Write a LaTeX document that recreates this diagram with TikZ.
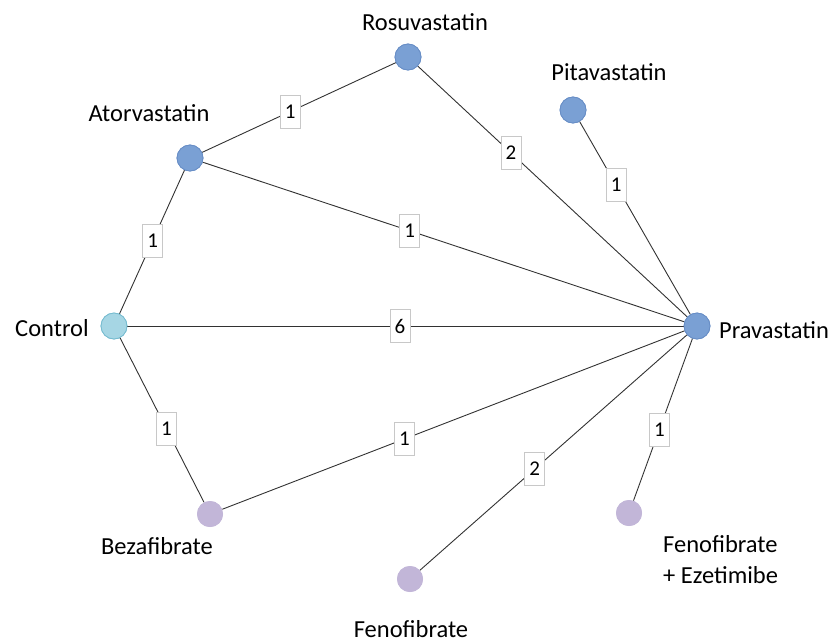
\documentclass[tikz,border=0pt]{standalone}
\usepackage{fontspec}
\setmainfont{Carlito}
\definecolor{bluefill}{RGB}{122,160,212}
\definecolor{blueline}{RGB}{104,142,198}
\definecolor{cyanfill}{RGB}{166,214,228}
\definecolor{cyanline}{RGB}{118,188,208}
\definecolor{purplefill}{RGB}{194,182,216}
\definecolor{edgecol}{RGB}{50,50,50}
\definecolor{boxline}{RGB}{200,200,200}
\tikzset{
  blue node/.style={circle, minimum size=26pt, inner sep=0pt, fill=bluefill, draw=blueline, line width=0.8pt},
  ctrl node/.style={circle, minimum size=26pt, inner sep=0pt, fill=cyanfill, draw=cyanline, line width=0.8pt},
  purple node/.style={circle, minimum size=26pt, inner sep=0pt, fill=purplefill},
  name text/.style={font=\fontsize{24.5}{31}\selectfont, inner sep=0pt},
  edgeline/.style={draw=edgecol, line width=0.9pt},
  lbl/.style={fill=white, draw=boxline, line width=0.6pt, minimum width=20pt, minimum height=33pt, inner sep=0pt, font=\fontsize{21}{24}\selectfont, text=black}
}
\begin{document}
\begin{tikzpicture}[x=1pt,y=-1pt]
\useasboundingbox (0,0) rectangle (834,643);
% nodes
\node[blue node] (rosu) at (408,57) {};
\node[blue node] (pita) at (573,110) {};
\node[blue node] (ator) at (190,158) {};
\node[ctrl node] (ctrl) at (114,326) {};
\node[blue node] (prav) at (697,326) {};
\node[purple node] (beza) at (210,514) {};
\node[purple node] (feno) at (410,579) {};
\node[purple node] (fenoez) at (629,513) {};
% names
\node[name text] (trosu) at (425,22) {Rosuvastatin};
\node[name text] (tpita) at (609,72) {Pitavastatin};
\node[name text] (tator) at (149,113) {Atorvastatin};
\node[name text] (tctrl) at (52,328) {Control};
\node[name text] (tprav) at (774,330) {Pravastatin};
\node[name text] (tbeza) at (157,546) {Bezafibrate};
\node[name text] (tfeno) at (411,629) {Fenofibrate};
\node[name text, align=left, anchor=west] (tfenoez) at (663,560) {Fenofibrate\\+ Ezetimibe};
% edges
\draw[edgeline] (ator) -- node[lbl, pos=0.454] (e1) {1} (rosu);
\draw[edgeline] (rosu) -- node[lbl, pos=0.346] (e2) {2} (prav);
\draw[edgeline] (pita) -- node[lbl, pos=0.33] (e3) {1} (prav);
\draw[edgeline] (ator) -- node[lbl, pos=0.43] (e4) {1} (prav);
\draw[edgeline] (ctrl) -- node[lbl, pos=0.51] (e5) {1} (ator);
\draw[edgeline] (ctrl) -- node[lbl, pos=0.49] (e6) {6} (prav);
\draw[edgeline] (ctrl) -- node[lbl, pos=0.553] (e7) {1} (beza);
\draw[edgeline] (beza) -- node[lbl, pos=0.394] (e8) {1} (prav);
\draw[edgeline] (feno) -- node[lbl, pos=0.43] (e9) {2} (prav);
\draw[edgeline] (fenoez) -- node[lbl, pos=0.44] (e10) {1} (prav);
% redraw circles on top
\node[blue node] at (rosu) {};
\node[blue node] at (pita) {};
\node[blue node] at (ator) {};
\node[ctrl node] at (ctrl) {};
\node[blue node] at (prav) {};
\node[purple node] at (beza) {};
\node[purple node] at (feno) {};
\node[purple node] at (fenoez) {};
\end{tikzpicture}
\end{document}
